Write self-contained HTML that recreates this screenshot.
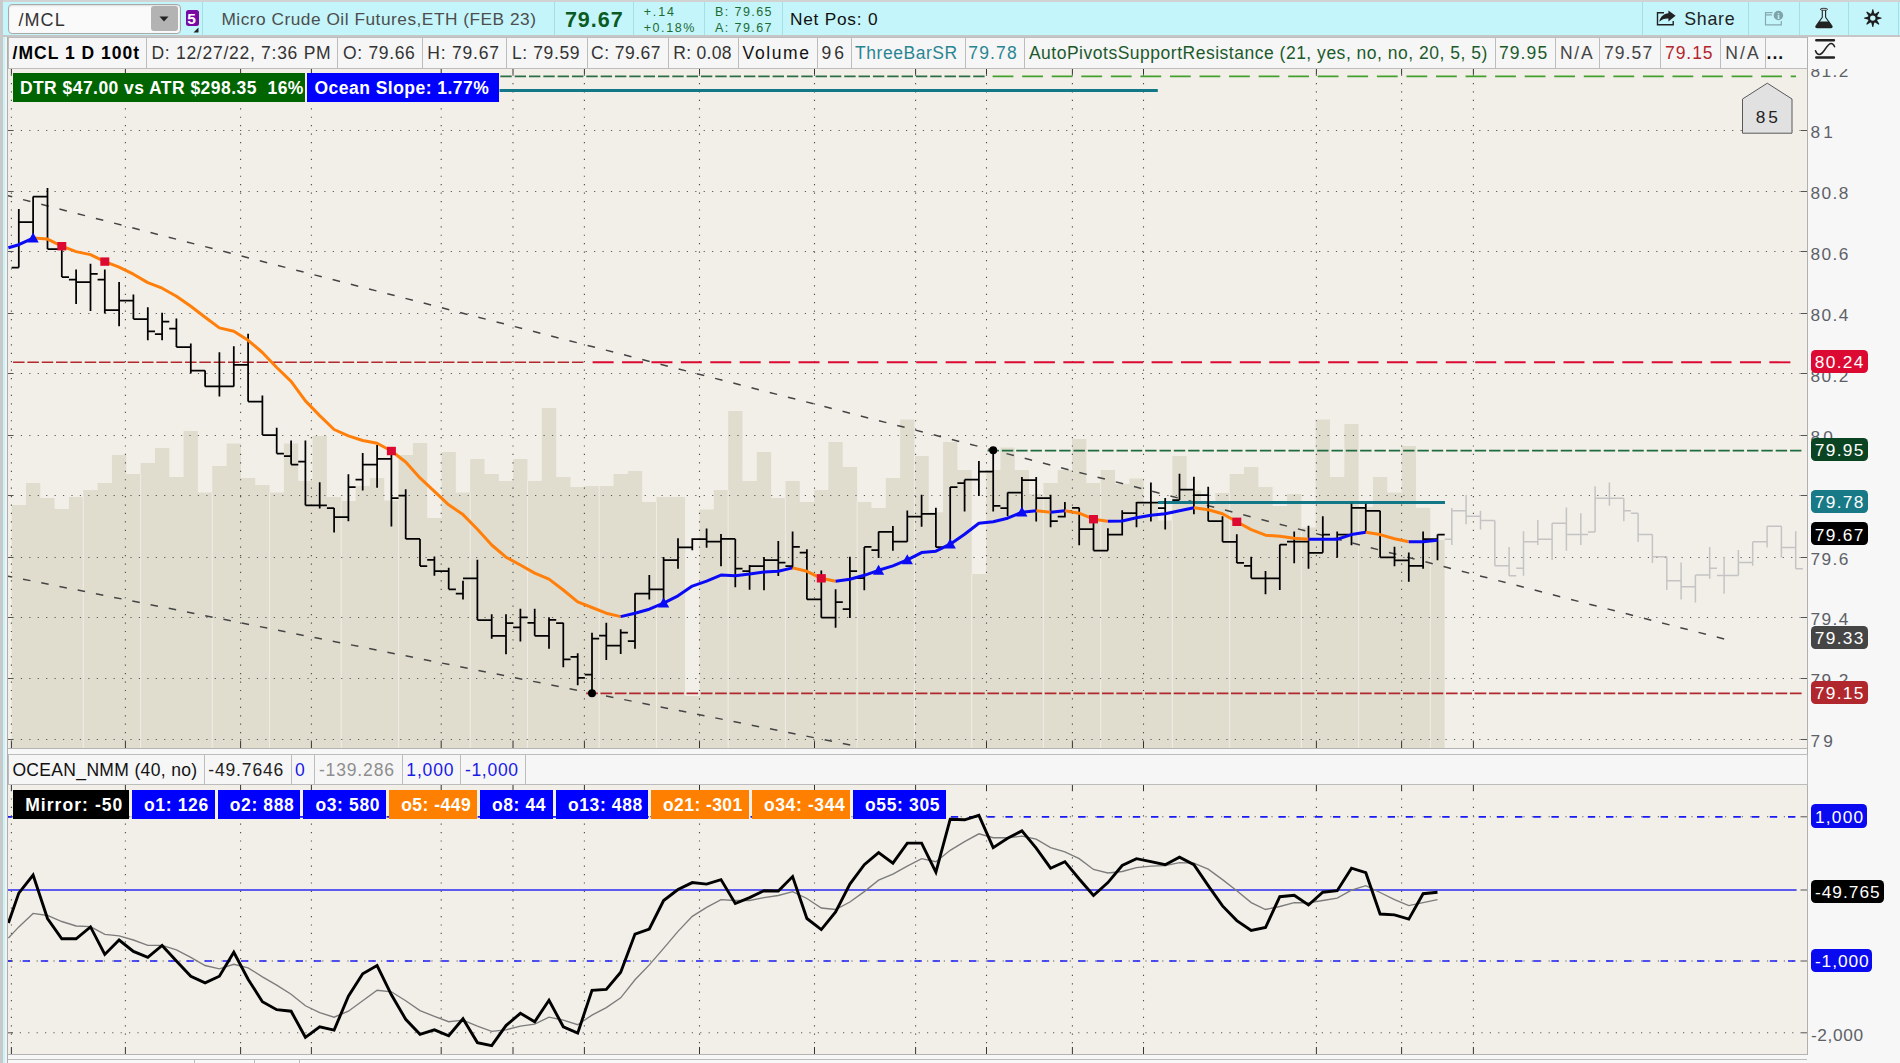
<!DOCTYPE html>
<html><head><meta charset="utf-8"><title>/MCL chart</title>
<style>
html,body{margin:0;padding:0;}
body{width:1900px;height:1063px;overflow:hidden;position:relative;background:#f7f7f7;font-family:"Liberation Sans",sans-serif;}
.b{position:absolute;display:block;}
.t{position:absolute;white-space:pre;line-height:1;}
</style></head><body>
<div class="b" style="left:0.0px;top:0.0px;width:1900.0px;height:1063.0px;background:#f7f7f7;"></div>
<div class="b" style="left:0.0px;top:0.0px;width:1900.0px;height:2.0px;background:#d2d2d2;"></div>
<div class="b" style="left:0.0px;top:0.0px;width:2.5px;height:1063.0px;background:#c9c9c9;"></div>
<div class="b" style="left:2.5px;top:1.5px;width:4.5px;height:1061.5px;background:#c4f5fa;"></div>
<div class="b" style="left:4.5px;top:36.5px;width:2.5px;height:1026.5px;background:#f2f2f2;"></div>
<div class="b" style="left:7.0px;top:36.0px;width:1.2px;height:1027.0px;background:#adadad;"></div>
<div class="b" style="left:2.5px;top:1.5px;width:1897.5px;height:33.5px;background:#c4f5fa;"></div>
<div class="b" style="left:2.5px;top:35.0px;width:1897.5px;height:2.0px;background:#c6c6c6;"></div>
<div class="b" style="left:7.5px;top:3.5px;width:173.0px;height:30.0px;background:#fafafa;border:1px solid #a9a9a9;border-radius:4px;box-sizing:border-box;box-shadow:inset 0 1px 2px rgba(0,0,0,.12);"></div>
<div class="b" style="left:150.5px;top:6.0px;width:27.5px;height:25.0px;background:#b3b3b3;border-radius:3px;"></div>
<svg class="b" style="left:158px;top:15px" width="12" height="8"><path d="M1.5 1.5 L10.5 1.5 L6 6.5 Z" fill="#222"/></svg>
<span class="t" style="left:18.4px;top:10.9px;font-size:18px;letter-spacing:1.10px;color:#333;">/MCL</span>
<div class="b" style="left:186.0px;top:9.5px;width:12.5px;height:16.5px;background:#7a08a3;border-radius:2.5px;"></div>
<span class="t" style="left:187.2px;top:11.4px;font-size:15.5px;letter-spacing:1.78px;color:#fff;font-weight:bold;">5</span>
<svg class="b" style="left:193px;top:27px" width="6" height="6"><path d="M5.5 0.5 L5.5 5.5 L0.5 5.5 Z" fill="#222"/></svg>
<div class="b" style="left:201.5px;top:2.0px;width:1.0px;height:33.0px;background:#a5dfe6;"></div>
<div class="b" style="left:554.0px;top:2.0px;width:1.0px;height:33.0px;background:#a5dfe6;"></div>
<div class="b" style="left:633.2px;top:2.0px;width:1.0px;height:33.0px;background:#a5dfe6;"></div>
<div class="b" style="left:704.2px;top:2.0px;width:1.0px;height:33.0px;background:#a5dfe6;"></div>
<div class="b" style="left:782.0px;top:2.0px;width:1.0px;height:33.0px;background:#a5dfe6;"></div>
<div class="b" style="left:1641.5px;top:2.0px;width:1.0px;height:33.0px;background:#a5dfe6;"></div>
<div class="b" style="left:1748.0px;top:2.0px;width:1.0px;height:33.0px;background:#a5dfe6;"></div>
<div class="b" style="left:1798.9px;top:2.0px;width:1.0px;height:33.0px;background:#a5dfe6;"></div>
<div class="b" style="left:1847.7px;top:2.0px;width:1.0px;height:33.0px;background:#a5dfe6;"></div>
<div class="b" style="left:1897.9px;top:2.0px;width:1.0px;height:33.0px;background:#a5dfe6;"></div>
<span class="t" style="left:221.4px;top:11.0px;font-size:17.3px;letter-spacing:0.51px;color:#4d4d4d;">Micro Crude Oil Futures,ETH (FEB 23)</span>
<span class="t" style="left:564.9px;top:9.9px;font-size:21.5px;letter-spacing:1.00px;color:#0b5a24;font-weight:bold;">79.67</span>
<span class="t" style="left:643.7px;top:6.3px;font-size:12.5px;letter-spacing:1.87px;color:#1d6b34;">+.14</span>
<span class="t" style="left:643.7px;top:22.0px;font-size:12.5px;letter-spacing:1.59px;color:#1d6b34;">+0.18%</span>
<span class="t" style="left:715.0px;top:6.3px;font-size:12.5px;letter-spacing:1.42px;color:#1d6b34;">B: 79.65</span>
<span class="t" style="left:715.0px;top:22.0px;font-size:12.5px;letter-spacing:1.42px;color:#1d6b34;">A: 79.67</span>
<span class="t" style="left:789.9px;top:10.7px;font-size:17.3px;letter-spacing:0.77px;color:#111;">Net Pos: 0</span>
<span class="t" style="left:1684.2px;top:11.1px;font-size:17.8px;letter-spacing:0.73px;color:#222;">Share</span>
<div class="b" style="left:8.0px;top:37.0px;width:1799.5px;height:31.5px;background:#f6f6f6;border:1px solid #bcbcbc;box-sizing:border-box;"></div>
<div class="b" style="left:146.0px;top:38.0px;width:1.0px;height:30.0px;background:#bcbcbc;"></div>
<div class="b" style="left:337.3px;top:38.0px;width:1.0px;height:30.0px;background:#bcbcbc;"></div>
<div class="b" style="left:422.2px;top:38.0px;width:1.0px;height:30.0px;background:#bcbcbc;"></div>
<div class="b" style="left:506.4px;top:38.0px;width:1.0px;height:30.0px;background:#bcbcbc;"></div>
<div class="b" style="left:586.9px;top:38.0px;width:1.0px;height:30.0px;background:#bcbcbc;"></div>
<div class="b" style="left:668.1px;top:38.0px;width:1.0px;height:30.0px;background:#bcbcbc;"></div>
<div class="b" style="left:738.2px;top:38.0px;width:1.0px;height:30.0px;background:#bcbcbc;"></div>
<div class="b" style="left:817.3px;top:38.0px;width:1.0px;height:30.0px;background:#bcbcbc;"></div>
<div class="b" style="left:851.0px;top:38.0px;width:1.0px;height:30.0px;background:#bcbcbc;"></div>
<div class="b" style="left:964.5px;top:38.0px;width:1.0px;height:30.0px;background:#bcbcbc;"></div>
<div class="b" style="left:1024.1px;top:38.0px;width:1.0px;height:30.0px;background:#bcbcbc;"></div>
<div class="b" style="left:1494.5px;top:38.0px;width:1.0px;height:30.0px;background:#bcbcbc;"></div>
<div class="b" style="left:1554.5px;top:38.0px;width:1.0px;height:30.0px;background:#bcbcbc;"></div>
<div class="b" style="left:1598.5px;top:38.0px;width:1.0px;height:30.0px;background:#bcbcbc;"></div>
<div class="b" style="left:1660.0px;top:38.0px;width:1.0px;height:30.0px;background:#bcbcbc;"></div>
<div class="b" style="left:1720.0px;top:38.0px;width:1.0px;height:30.0px;background:#bcbcbc;"></div>
<div class="b" style="left:1764.5px;top:38.0px;width:1.0px;height:30.0px;background:#bcbcbc;"></div>
<span class="t" style="left:12.5px;top:45.0px;font-size:17.5px;letter-spacing:1.02px;color:#000;font-weight:bold;">/MCL 1 D 100t</span>
<span class="t" style="left:151.4px;top:45.0px;font-size:17.5px;letter-spacing:0.73px;color:#333;">D: 12/27/22, 7:36 PM</span>
<span class="t" style="left:343.1px;top:45.0px;font-size:17.5px;letter-spacing:0.65px;color:#333;">O: 79.66</span>
<span class="t" style="left:427.3px;top:45.0px;font-size:17.5px;letter-spacing:0.79px;color:#333;">H: 79.67</span>
<span class="t" style="left:511.9px;top:45.0px;font-size:17.5px;letter-spacing:0.62px;color:#333;">L: 79.59</span>
<span class="t" style="left:591.1px;top:45.0px;font-size:17.5px;letter-spacing:0.45px;color:#333;">C: 79.67</span>
<span class="t" style="left:673.2px;top:45.0px;font-size:17.5px;letter-spacing:0.31px;color:#333;">R: 0.08</span>
<span class="t" style="left:742.6px;top:45.0px;font-size:17.5px;letter-spacing:1.59px;color:#111;">Volume</span>
<span class="t" style="left:821.4px;top:45.0px;font-size:17.5px;letter-spacing:3.03px;color:#333;">96</span>
<span class="t" style="left:855.1px;top:45.0px;font-size:17.5px;letter-spacing:0.53px;color:#2a8593;">ThreeBarSR</span>
<span class="t" style="left:968.3px;top:45.0px;font-size:17.5px;letter-spacing:1.15px;color:#2a8593;">79.78</span>
<span class="t" style="left:1028.9px;top:45.0px;font-size:17.5px;letter-spacing:0.51px;color:#1c5a2c;">AutoPivotsSupportResistance (21, yes, no, no, 20, 5, 5)</span>
<span class="t" style="left:1498.9px;top:45.0px;font-size:17.5px;letter-spacing:1.12px;color:#1c5a2c;">79.95</span>
<span class="t" style="left:1559.9px;top:45.0px;font-size:17.5px;letter-spacing:1.81px;color:#444;">N/A</span>
<span class="t" style="left:1603.9px;top:45.0px;font-size:17.5px;letter-spacing:1.12px;color:#444;">79.57</span>
<span class="t" style="left:1665.0px;top:45.0px;font-size:17.5px;letter-spacing:0.95px;color:#b3262d;">79.15</span>
<span class="t" style="left:1725.2px;top:45.0px;font-size:17.5px;letter-spacing:2.11px;color:#444;">N/A</span>
<span class="t" style="left:1766.6px;top:45.0px;font-size:17.5px;letter-spacing:0.96px;color:#111;font-weight:bold;">...</span>
<svg class="b" style="left:0;top:0" width="1900" height="70" viewBox="0 0 1900 70"><path d="M1664 12.7H1657.5V24.8H1673.2V21" fill="none" stroke="#222" stroke-width="1.4"/><path d="M1659.2 21.8C1660.3 16.6 1664 13.5 1668.4 13.3V10.4L1675.6 15.8L1668.4 21.4V18.4C1664.5 18.3 1661.5 19.4 1659.2 21.8Z" fill="#222"/><path d="M1772.6 12.7H1765.5V24.8H1781.3V21" fill="none" stroke="#86aab0" stroke-width="1.2"/><path d="M1766 14.9H1772" stroke="#86aab0" stroke-width="1.3"/><circle cx="1778.4" cy="15.5" r="4.75" fill="#7fa3a9"/><text x="1778.5" y="18.9" font-size="8.6" font-weight="bold" text-anchor="middle" fill="#c4f5fa" font-family="Liberation Serif, serif">i</text><ellipse cx="1823.95" cy="9.3" rx="3.7" ry="1" fill="#dff" stroke="#222" stroke-width="0.9"/><path d="M1822.3 10.2V17.3L1816 25.9Q1815.3 27.6 1817.2 27.6H1830.8Q1832.6 27.6 1831.9 25.9L1825.6 17.3V10.2" fill="none" stroke="#222" stroke-width="1.1"/><path d="M1819 21.6H1829L1832 25.9Q1832.7 27.7 1830.8 27.7H1817.2Q1815.2 27.7 1816 25.9Z" fill="#222"/><path d="M1876.26 16.30L1881.59 17.66L1881.59 18.54L1876.26 19.90ZM1876.52 19.27L1879.33 24.00L1878.70 24.63L1873.97 21.82ZM1874.60 21.56L1873.24 26.89L1872.36 26.89L1871.00 21.56ZM1871.63 21.82L1866.90 24.63L1866.27 24.00L1869.08 19.27ZM1869.34 19.90L1864.01 18.54L1864.01 17.66L1869.34 16.30ZM1869.08 16.93L1866.27 12.20L1866.90 11.57L1871.63 14.38ZM1871.00 14.64L1872.36 9.31L1873.24 9.31L1874.60 14.64ZM1873.97 14.38L1878.70 11.57L1879.33 12.20L1876.52 16.93Z" fill="#1e1e1e"/><circle cx="1872.8" cy="18.1" r="3.75" fill="none" stroke="#1e1e1e" stroke-width="2.1"/><path d="M1816.3 40.25H1833.9M1816.3 57.6H1833.9" stroke="#222" stroke-width="2.5" stroke-linecap="round"/><path d="M1815.5 50.7C1816.5 53.5 1817.8 54.5 1819.3 54.5C1824 54.5 1826.5 43.5 1831.2 43.5C1832.8 43.5 1833.8 44.8 1834.6 46.7" fill="none" stroke="#222" stroke-width="1.5" stroke-linecap="round"/></svg>
<svg class="b" style="left:8px;top:69px" width="1799" height="679" viewBox="8 69 1799 679" font-family="Liberation Sans, sans-serif"><rect x="8" y="69" width="1799" height="679" fill="#f2efe8"/><path d="M11.64 748L11.64 505.0L25.97 505.0L25.96 483.0L40.30 483.0L40.30 498.0L54.62 498.0L54.62 509.0L68.95 509.0L68.95 497.0L83.28 497.0L83.28 490.0L97.61 490.0L97.61 483.0L111.94 483.0L111.94 455.0L126.27 455.0L126.27 474.0L140.60 474.0L140.61 463.0L154.94 463.0L154.94 448.0L169.27 448.0L169.27 477.0L183.60 477.0L183.59 431.0L197.93 431.0L197.93 492.5L212.26 492.5L212.26 466.0L226.59 466.0L226.59 443.5L240.92 443.5L240.92 478.0L255.25 478.0L255.25 485.0L269.57 485.0L269.57 492.5L283.90 492.5L283.91 443.5L298.24 443.5L298.24 481.0L312.56 481.0L312.56 436.0L326.89 436.0L326.90 497.0L341.23 497.0L341.23 501.0L355.56 501.0L355.56 486.0L369.88 486.0L369.88 478.0L384.21 478.0L384.22 500.5L398.55 500.5L398.55 455.0L412.88 455.0L412.88 443.0L427.20 443.0L427.21 518.0L441.54 518.0L441.54 452.0L455.87 452.0L455.87 492.5L470.19 492.5L470.19 459.0L484.52 459.0L484.53 474.0L498.86 474.0L498.86 481.0L513.19 481.0L513.18 459.0L527.51 459.0L527.51 481.0L541.85 481.0L541.84 408.0L556.17 408.0L556.17 477.0L570.50 477.0L570.50 487.0L584.84 487.0L584.83 486.0L599.16 486.0L599.16 486.0L613.50 486.0L613.50 474.0L627.83 474.0L627.82 471.0L642.15 471.0L642.15 502.0L656.49 502.0L656.49 497.0L670.82 497.0L670.81 497.0L685.14 497.0L685.14 696.0L699.48 696.0L699.47 509.5L713.80 509.5L713.80 490.0L728.13 490.0L728.13 411.0L742.47 411.0L742.46 481.0L756.79 481.0L756.79 452.0L771.12 452.0L771.12 498.0L785.46 498.0L785.45 481.0L799.78 481.0L799.78 502.0L814.12 502.0L814.12 490.0L828.45 490.0L828.44 442.0L842.77 442.0L842.77 467.0L857.11 467.0L857.10 502.0L871.43 502.0L871.43 508.0L885.76 508.0L885.76 478.0L900.10 478.0L900.09 419.5L914.42 419.5L914.42 456.0L928.75 456.0L928.75 512.3L943.09 512.3L943.08 442.0L957.41 442.0L957.41 470.0L971.75 470.0L971.75 574.0L986.08 574.0L986.07 470.0L1000.40 470.0L1000.40 447.5L1014.74 447.5L1014.74 470.0L1029.07 470.0L1029.07 494.0L1043.39 494.0L1043.39 483.0L1057.72 483.0L1057.72 470.0L1072.05 470.0L1072.06 439.0L1086.38 439.0L1086.38 483.0L1100.71 483.0L1100.71 470.0L1115.04 470.0L1115.05 484.0L1129.38 484.0L1129.38 478.5L1143.70 478.5L1143.70 502.0L1158.03 502.0L1158.03 520.5L1172.36 520.5L1172.37 456.0L1186.69 456.0L1186.69 490.5L1201.02 490.5L1201.02 503.0L1215.35 503.0L1215.36 493.0L1229.68 493.0L1229.68 474.0L1244.01 474.0L1244.01 467.0L1258.34 467.0L1258.35 487.0L1272.67 487.0L1272.67 506.0L1287.00 506.0L1287.00 494.0L1301.33 494.0L1301.34 527.5L1315.66 527.5L1315.66 419.5L1329.99 419.5L1329.99 477.0L1344.32 477.0L1344.33 424.0L1358.65 424.0L1358.65 507.0L1372.98 507.0L1372.98 477.0L1387.31 477.0L1387.32 492.6L1401.64 492.6L1401.64 446.0L1415.97 446.0L1415.97 507.7L1430.30 507.7L1430.31 540.0L1444.63 540.0L1444.63 748Z" fill="#e0ddcf"/><rect x="82.78" y="497.0" width="1" height="251.0" fill="#efece4"/><rect x="140.11" y="474.0" width="1" height="274.0" fill="#efece4"/><rect x="211.76" y="492.5" width="1" height="255.5" fill="#efece4"/><rect x="269.07" y="492.5" width="1" height="255.5" fill="#efece4"/><rect x="340.73" y="501.0" width="1" height="247.0" fill="#efece4"/><rect x="398.05" y="500.5" width="1" height="247.5" fill="#efece4"/><rect x="469.69" y="492.5" width="1" height="255.5" fill="#efece4"/><rect x="527.01" y="481.0" width="1" height="267.0" fill="#efece4"/><rect x="598.66" y="486.0" width="1" height="262.0" fill="#efece4"/><rect x="655.99" y="502.0" width="1" height="246.0" fill="#efece4"/><rect x="727.63" y="490.0" width="1" height="258.0" fill="#efece4"/><rect x="784.95" y="498.0" width="1" height="250.0" fill="#efece4"/><rect x="856.60" y="502.0" width="1" height="246.0" fill="#efece4"/><rect x="913.92" y="456.0" width="1" height="292.0" fill="#efece4"/><rect x="971.25" y="574.0" width="1" height="174.0" fill="#efece4"/><rect x="1042.89" y="494.0" width="1" height="254.0" fill="#efece4"/><rect x="1100.21" y="483.0" width="1" height="265.0" fill="#efece4"/><rect x="1171.87" y="520.5" width="1" height="227.5" fill="#efece4"/><rect x="1229.18" y="493.0" width="1" height="255.0" fill="#efece4"/><rect x="1300.84" y="527.5" width="1" height="220.5" fill="#efece4"/><rect x="1358.15" y="507.0" width="1" height="241.0" fill="#efece4"/><rect x="1429.81" y="540.0" width="1" height="208.0" fill="#efece4"/><path d="M12.4 130.5H1800" stroke="#5a5a5a" stroke-width="1.1" stroke-dasharray="1.2 7.23"/><path d="M12.4 191.5H1800" stroke="#5a5a5a" stroke-width="1.1" stroke-dasharray="1.2 7.23"/><path d="M12.4 251.5H1800" stroke="#5a5a5a" stroke-width="1.1" stroke-dasharray="1.2 7.23"/><path d="M12.4 313.5H1800" stroke="#5a5a5a" stroke-width="1.1" stroke-dasharray="1.2 7.23"/><path d="M12.4 373.5H1800" stroke="#5a5a5a" stroke-width="1.1" stroke-dasharray="1.2 7.23"/><path d="M12.4 435.5H1800" stroke="#5a5a5a" stroke-width="1.1" stroke-dasharray="1.2 7.23"/><path d="M12.4 495.5H1800" stroke="#5a5a5a" stroke-width="1.1" stroke-dasharray="1.2 7.23"/><path d="M12.4 557.5H1800" stroke="#5a5a5a" stroke-width="1.1" stroke-dasharray="1.2 7.23"/><path d="M12.4 617.5H1800" stroke="#5a5a5a" stroke-width="1.1" stroke-dasharray="1.2 7.23"/><path d="M12.4 678.5H1800" stroke="#5a5a5a" stroke-width="1.1" stroke-dasharray="1.2 7.23"/><path d="M12.4 739.5H1800" stroke="#5a5a5a" stroke-width="1.1" stroke-dasharray="1.2 7.23"/><path d="M11.4 74.5V742" stroke="#4a4a4a" stroke-width="1.1" stroke-dasharray="1.2 7.23"/><path d="M11.4 69V74.5M11.4 741.5V748" stroke="#333" stroke-width="1"/><path d="M125.4 74.5V742" stroke="#4a4a4a" stroke-width="1.1" stroke-dasharray="1.2 7.23"/><path d="M125.4 69V74.5M125.4 741.5V748" stroke="#333" stroke-width="1"/><path d="M240.6 74.5V742" stroke="#4a4a4a" stroke-width="1.1" stroke-dasharray="1.2 7.23"/><path d="M240.6 69V74.5M240.6 741.5V748" stroke="#333" stroke-width="1"/><path d="M311.4 74.5V742" stroke="#4a4a4a" stroke-width="1.1" stroke-dasharray="1.2 7.23"/><path d="M311.4 69V74.5M311.4 741.5V748" stroke="#333" stroke-width="1"/><path d="M441.2 74.5V742" stroke="#4a4a4a" stroke-width="1.1" stroke-dasharray="1.2 7.23"/><path d="M441.2 69V74.5M441.2 741.5V748" stroke="#333" stroke-width="1"/><path d="M513 74.5V742" stroke="#4a4a4a" stroke-width="1.1" stroke-dasharray="1.2 7.23"/><path d="M513 69V74.5M513 741.5V748" stroke="#333" stroke-width="1"/><path d="M584.4 74.5V742" stroke="#4a4a4a" stroke-width="1.1" stroke-dasharray="1.2 7.23"/><path d="M584.4 69V74.5M584.4 741.5V748" stroke="#333" stroke-width="1"/><path d="M699.5 74.5V742" stroke="#4a4a4a" stroke-width="1.1" stroke-dasharray="1.2 7.23"/><path d="M699.5 69V74.5M699.5 741.5V748" stroke="#333" stroke-width="1"/><path d="M814.5 74.5V742" stroke="#4a4a4a" stroke-width="1.1" stroke-dasharray="1.2 7.23"/><path d="M814.5 69V74.5M814.5 741.5V748" stroke="#333" stroke-width="1"/><path d="M915.6 74.5V742" stroke="#4a4a4a" stroke-width="1.1" stroke-dasharray="1.2 7.23"/><path d="M915.6 69V74.5M915.6 741.5V748" stroke="#333" stroke-width="1"/><path d="M986.5 74.5V742" stroke="#4a4a4a" stroke-width="1.1" stroke-dasharray="1.2 7.23"/><path d="M986.5 69V74.5M986.5 741.5V748" stroke="#333" stroke-width="1"/><path d="M1072.4 74.5V742" stroke="#4a4a4a" stroke-width="1.1" stroke-dasharray="1.2 7.23"/><path d="M1072.4 69V74.5M1072.4 741.5V748" stroke="#333" stroke-width="1"/><path d="M1143.5 74.5V742" stroke="#4a4a4a" stroke-width="1.1" stroke-dasharray="1.2 7.23"/><path d="M1143.5 69V74.5M1143.5 741.5V748" stroke="#333" stroke-width="1"/><path d="M1316.4 74.5V742" stroke="#4a4a4a" stroke-width="1.1" stroke-dasharray="1.2 7.23"/><path d="M1316.4 69V74.5M1316.4 741.5V748" stroke="#333" stroke-width="1"/><path d="M1401.6 74.5V742" stroke="#4a4a4a" stroke-width="1.1" stroke-dasharray="1.2 7.23"/><path d="M1401.6 69V74.5M1401.6 741.5V748" stroke="#333" stroke-width="1"/><path d="M1473.4 74.5V742" stroke="#4a4a4a" stroke-width="1.1" stroke-dasharray="1.2 7.23"/><path d="M1473.4 69V74.5M1473.4 741.5V748" stroke="#333" stroke-width="1"/><path d="M8 130.5H13M1800.5 130.5H1807" stroke="#555" stroke-width="1"/><path d="M8 191.5H13M1800.5 191.5H1807" stroke="#555" stroke-width="1"/><path d="M8 251.5H13M1800.5 251.5H1807" stroke="#555" stroke-width="1"/><path d="M8 313.5H13M1800.5 313.5H1807" stroke="#555" stroke-width="1"/><path d="M8 373.5H13M1800.5 373.5H1807" stroke="#555" stroke-width="1"/><path d="M8 435.5H13M1800.5 435.5H1807" stroke="#555" stroke-width="1"/><path d="M8 495.5H13M1800.5 495.5H1807" stroke="#555" stroke-width="1"/><path d="M8 557.5H13M1800.5 557.5H1807" stroke="#555" stroke-width="1"/><path d="M8 617.5H13M1800.5 617.5H1807" stroke="#555" stroke-width="1"/><path d="M8 678.5H13M1800.5 678.5H1807" stroke="#555" stroke-width="1"/><path d="M8 739.5H13M1800.5 739.5H1807" stroke="#555" stroke-width="1"/><path d="M4.8 194.90L1727 639.74" stroke="#444" stroke-width="1.5" stroke-dasharray="7.64 11.17" fill="none"/><path d="M4.8 575.50L858 746.48" stroke="#444" stroke-width="1.5" stroke-dasharray="7.55 11.03" fill="none"/><path d="M500.32 76.3H984.61" stroke="#2a6e45" stroke-width="1.7" stroke-dasharray="11.4 2.93"/><path d="M992.6 76.3H1796" stroke="#43a02c" stroke-width="1.7" stroke-dasharray="20.8 8.76"/><path d="M499.5 90.4H1157.8" stroke="#127888" stroke-width="3"/><path d="M13.05 362.3H583.42" stroke="#b3272e" stroke-width="1.6" stroke-dasharray="11.5 2.83"/><path d="M592.6 362.3H1792" stroke="#dc0a32" stroke-width="1.9" stroke-dasharray="21 8.42"/><path d="M987.54 450.6H1802.00" stroke="#1d6b3e" stroke-width="1.8" stroke-dasharray="11.4 2.93"/><path d="M586.15 693.4H1802.00" stroke="#b0282e" stroke-width="1.7" stroke-dasharray="11.7 2.63"/><path d="M1158 502.5H1445" stroke="#127888" stroke-width="3"/><path d="M1451.8 508.0V545.0M1444.6 539.2H1451.8M1451.8 510.8H1459.0M1466.1 495.0V524.2M1458.9 510.8H1466.1M1466.1 516.2H1473.3M1480.5 510.8V529.5M1473.3 516.2H1480.5M1480.5 520.5H1487.7M1494.8 520.5V565.8M1487.6 520.5H1494.8M1494.8 565.8H1502.0M1509.1 547.0V575.8M1501.9 565.8H1509.1M1509.1 575.8H1516.3M1523.5 531.2V575.8M1516.2 568.2H1523.5M1523.5 541.8H1530.7M1537.8 520.0V545.0M1530.6 541.8H1537.8M1537.8 539.2H1545.0M1552.1 523.2V560.0M1544.9 539.2H1552.1M1552.1 523.2H1559.3M1566.4 507.5V550.8M1559.2 523.2H1566.4M1566.4 534.5H1573.6M1580.8 513.2V545.0M1573.6 534.5H1580.8M1580.8 534.5H1588.0M1595.1 486.2V532.0M1587.9 532.0H1595.1M1595.1 498.2H1602.3M1609.4 482.5V505.8M1602.2 498.2H1609.4M1609.4 498.2H1616.6M1623.8 498.2V521.2M1616.6 498.2H1623.8M1623.8 510.8H1631.0M1638.1 513.2V542.0M1630.9 513.2H1638.1M1638.1 534.5H1645.3M1652.4 534.5V563.0M1645.2 534.5H1652.4M1652.4 556.8H1659.6M1666.8 556.8V590.0M1659.5 556.8H1666.8M1666.8 580.8H1674.0M1681.1 562.5V599.5M1673.9 580.8H1681.1M1681.1 586.8H1688.3M1695.4 575.0V602.5M1688.2 586.8H1695.4M1695.4 575.0H1702.6M1709.7 547.0V578.8M1702.5 575.0H1709.7M1709.7 568.2H1716.9M1724.1 556.8V593.8M1716.9 575.5H1724.1M1724.1 575.5H1731.3M1738.4 550.0V575.5M1731.2 575.5H1738.4M1738.4 562.5H1745.6M1752.7 541.8V565.8M1745.5 562.5H1752.7M1752.7 541.8H1759.9M1767.1 526.2V547.5M1759.9 541.8H1767.1M1767.1 526.2H1774.3M1781.4 526.2V557.5M1774.2 526.2H1781.4M1781.4 547.5H1788.6M1795.7 531.2V568.8M1788.5 547.5H1795.7M1795.7 568.8H1802.9" stroke="#c4c4c4" stroke-width="1.5" fill="none"/><path d="M18.8 209.0V267.5M11.6 267.5H18.8M18.8 222.1H26.0M33.1 196.6V241.0M25.9 222.1H33.1M33.1 196.6H40.3M47.5 188.0V249.0M40.3 196.6H47.5M47.5 249.0H54.7M61.8 244.0V277.1M54.6 249.0H61.8M61.8 277.1H69.0M76.1 269.5V303.9M68.9 279.6H76.1M76.1 282.0H83.3M90.5 263.7V310.9M83.2 282.0H90.5M90.5 273.8H97.7M104.8 269.5V313.4M97.6 279.6H104.8M104.8 310.2H112.0M119.1 282.0V326.3M111.9 310.2H119.1M119.1 300.7H126.3M133.4 294.4V319.0M126.2 300.7H133.4M133.4 319.0H140.6M147.8 307.2V340.3M140.6 319.0H147.8M147.8 331.4H155.0M162.1 312.7V340.3M154.9 334.2H162.1M162.1 321.6H169.3M176.4 318.5V347.0M169.2 328.5H176.4M176.4 347.0H183.6M190.8 343.6V373.6M183.6 347.0H190.8M190.8 370.6H198.0M205.1 370.6V386.4M197.9 370.6H205.1M205.1 386.4H212.3M219.4 352.2V396.4M212.2 386.4H219.4M219.4 386.4H226.6M233.8 346.3V386.4M226.6 386.4H233.8M233.8 364.8H240.9M248.1 333.7V401.5M240.9 364.8H248.1M248.1 401.5H255.3M262.4 395.4V435.1M255.2 401.5H262.4M262.4 435.1H269.6M276.7 427.8V453.5M269.5 435.1H276.7M276.7 453.5H283.9M291.1 440.5V464.5M283.9 456.2H291.1M291.1 464.5H298.3M305.4 440.5V505.3M298.2 461.5H305.4M305.4 505.3H312.6M319.7 482.3V508.5M312.5 505.3H319.7M319.7 505.3H326.9M334.1 508.0V532.4M326.9 508.0H334.1M334.1 517.0H341.3M348.4 474.3V521.2M341.2 517.0H348.4M348.4 487.0H355.6M362.7 453.0V490.6M355.5 479.6H362.7M362.7 464.5H369.9M377.1 444.9V487.7M369.9 464.5H377.1M377.1 458.9H384.2M391.4 448.0V526.4M384.2 458.8H391.4M391.4 498.1H398.6M405.7 489.2V538.9M398.5 495.5H405.7M405.7 538.9H412.9M420.0 538.9V566.0M412.8 538.9H420.0M420.0 566.0H427.2M434.4 556.6V575.8M427.2 559.8H434.4M434.4 571.1H441.6M448.7 567.8V589.3M441.5 571.1H448.7M448.7 589.3H455.9M463.0 580.8V599.5M455.8 593.7H463.0M463.0 578.3H470.2M477.4 559.8V620.1M470.2 578.3H477.4M477.4 620.1H484.6M491.7 614.2V638.8M484.5 620.1H491.7M491.7 635.8H498.9M506.0 614.2V654.3M498.8 635.8H506.0M506.0 623.1H513.2M520.4 608.8V641.5M513.1 627.3H520.4M520.4 617.4H527.6M534.7 608.8V635.8M527.5 622.9H534.7M534.7 635.8H541.9M549.0 617.3V648.8M541.8 635.8H549.0M549.0 619.8H556.2M563.3 622.7V667.3M556.1 623.1H563.3M563.3 659.3H570.5M577.7 653.3V685.3M570.5 656.9H577.7M577.7 677.9H584.9M592.0 632.8V693.3M584.8 674.7H592.0M592.0 638.6H599.2M606.3 622.7V659.9M599.1 635.7H606.3M606.3 645.7H613.5M620.7 629.3V654.1M613.5 645.7H620.7M620.7 632.6H627.9M635.0 593.2V648.8M627.8 641.0H635.0M635.0 593.5H642.2M649.3 575.0V599.5M642.1 593.5H649.3M649.3 589.4H656.5M663.6 557.0V600.0M656.4 589.4H663.6M663.6 560.0H670.9M678.0 538.3V568.7M670.8 560.0H678.0M678.0 547.3H685.2M692.3 538.3V550.3M685.1 547.3H692.3M692.3 539.1H699.5M706.6 528.4V547.8M699.4 539.1H706.6M706.6 541.7H713.8M721.0 534.0V566.2M713.8 541.7H721.0M721.0 538.9H728.2M735.3 538.9V587.3M728.1 538.9H735.3M735.3 568.7H742.5M749.6 565.0V589.8M742.4 571.0H749.6M749.6 566.0H756.8M764.0 557.0V590.2M756.8 566.0H764.0M764.0 560.0H771.2M778.3 541.0V576.0M771.1 560.0H778.3M778.3 562.6H785.5M792.6 531.4V568.0M785.4 566.0H792.6M792.6 546.9H799.8M806.9 549.3V599.4M799.7 552.6H806.9M806.9 599.4H814.1M821.3 570.4V617.7M814.1 599.4H821.3M821.3 617.7H828.5M835.6 589.3V627.8M828.4 617.7H835.6M835.6 602.0H842.8M849.9 556.7V618.0M842.7 609.1H849.9M849.9 571.0H857.1M864.3 546.9V590.2M857.1 578.0H864.3M864.3 546.9H871.5M878.6 531.4V558.0M871.4 550.2H878.6M878.6 531.8H885.8M892.9 526.0V550.8M885.7 531.8H892.9M892.9 541.7H900.1M907.3 510.4V541.7M900.1 541.7H907.3M907.3 516.7H914.5M921.6 494.8V526.8M914.4 516.7H921.6M921.6 513.8H928.8M935.9 507.8V547.2M928.7 513.8H935.9M935.9 547.2H943.1M950.2 487.1V546.0M943.0 547.2H950.2M950.2 487.1H957.5M964.6 479.7V511.6M957.4 483.1H964.6M964.6 479.7H971.8M978.9 461.1V496.1M971.7 479.7H978.9M978.9 471.7H986.1M993.2 450.3V511.6M986.0 471.7H993.2M993.2 505.8H1000.4M1007.6 492.5V516.2M1000.4 508.2H1007.6M1007.6 492.5H1014.8M1021.9 477.1V511.0M1014.7 492.5H1021.9M1021.9 480.1H1029.1M1036.2 477.1V521.6M1029.0 480.1H1036.2M1036.2 498.1H1043.4M1050.6 494.7V527.2M1043.4 498.1H1050.6M1050.6 521.2H1057.8M1064.9 502.1V517.6M1057.7 516.6H1064.9M1064.9 511.2H1072.1M1079.2 507.8V545.2M1072.0 507.8H1079.2M1079.2 529.2H1086.4M1093.5 517.0V550.6M1086.3 529.2H1093.5M1093.5 550.6H1100.8M1107.9 528.2V550.6M1100.7 550.6H1107.9M1107.9 534.6H1115.1M1122.2 510.2V535.4M1115.0 534.6H1122.2M1122.2 513.2H1129.4M1136.5 502.1V527.2M1129.3 513.2H1136.5M1136.5 502.5H1143.7M1150.9 482.5V521.6M1143.7 502.5H1150.9M1150.9 502.5H1158.1M1165.2 498.1V529.6M1158.0 508.2H1165.2M1165.2 513.2H1172.4M1179.5 473.7V500.1M1172.3 500.0H1179.5M1179.5 489.7H1186.7M1193.9 476.7V514.2M1186.7 489.7H1193.9M1193.9 495.1H1201.1M1208.2 486.7V521.2M1201.0 495.1H1208.2M1208.2 521.2H1215.4M1222.5 516.2V541.8M1215.3 521.2H1222.5M1222.5 541.8H1229.7M1236.8 534.2V562.9M1229.6 541.8H1236.8M1236.8 562.9H1244.0M1251.2 556.7V578.3M1244.0 565.9H1251.2M1251.2 578.3H1258.4M1265.5 570.9V594.3M1258.3 578.3H1265.5M1265.5 578.3H1272.7M1279.8 544.6V589.9M1272.6 578.3H1279.8M1279.8 544.6H1287.0M1294.2 531.6V563.3M1287.0 541.6H1294.2M1294.2 541.6H1301.4M1308.5 525.8V568.7M1301.3 541.6H1308.5M1308.5 552.8H1315.7M1322.8 516.2V552.8M1315.6 552.8H1322.8M1322.8 534.6H1330.0M1337.2 531.6V557.7M1330.0 539.2H1337.2M1337.2 534.6H1344.4M1351.5 503.7V545.2M1344.3 534.6H1351.5M1351.5 507.8H1358.7M1365.8 503.7V532.2M1358.6 507.8H1365.8M1365.8 510.8H1373.0M1380.1 510.8V557.3M1372.9 510.8H1380.1M1380.1 557.3H1387.3M1394.5 546.8V566.3M1387.3 557.3H1394.5M1394.5 560.3H1401.7M1408.8 552.6V581.7M1401.6 560.3H1408.8M1408.8 565.9H1416.0M1423.1 531.6V568.7M1415.9 565.9H1423.1M1423.1 539.2H1430.3M1437.5 534.6V560.3M1430.3 539.2H1437.5M1437.5 534.6H1444.7" stroke="#000" stroke-width="1.75" fill="none"/><path d="M8.4 247.8L18.8 244.7L33.1 238.1" stroke="#0a0af5" stroke-width="3" fill="none" stroke-linejoin="round"/><path d="M33.1 238.1L47.5 239.1L61.8 246.2L76.1 251.6L90.5 254.6L104.8 261.6L119.1 267.2L133.4 274.2L147.8 282.6L162.1 288.2L176.4 296.3L190.8 306.3L205.1 317.3L219.4 327.9L233.8 331.3L248.1 340.3L262.4 352.5L276.7 367.5L291.1 381.3L305.4 400.9L319.7 415.6L334.1 429.5L348.4 435.9L362.7 440.5L377.1 443.2L391.4 451.0L405.7 462.0L420.0 477.9L434.4 491.4L448.7 504.8L463.0 514.6L477.4 529.3L491.7 545.0L506.0 557.2L520.4 565.0L534.7 573.1L549.0 579.1L563.3 590.0L577.7 601.8L592.0 607.5L606.3 613.2L620.7 616.6" stroke="#ff7f0a" stroke-width="3" fill="none" stroke-linejoin="round"/><path d="M620.7 616.6L635.0 613.2L649.3 609.2L663.6 603.2L678.0 595.8L692.3 586.1L706.6 581.1L721.0 575.1L735.3 575.7L749.6 574.1L764.0 571.9L778.3 571.3L792.6 567.9" stroke="#0a0af5" stroke-width="3" fill="none" stroke-linejoin="round"/><path d="M792.6 567.9L806.9 571.3L821.3 578.3L835.6 581.3" stroke="#ff7f0a" stroke-width="3" fill="none" stroke-linejoin="round"/><path d="M835.6 581.3L849.9 579.3L864.3 575.3L878.6 570.3L892.9 565.9L907.3 559.9L921.6 552.6L935.9 551.2L950.2 544.2L964.6 534.2L978.9 523.2L993.2 521.8L1007.6 518.2L1021.9 512.2L1036.2 510.8" stroke="#0a0af5" stroke-width="3" fill="none" stroke-linejoin="round"/><path d="M1036.2 510.8L1050.6 512.2" stroke="#ff7f0a" stroke-width="3" fill="none" stroke-linejoin="round"/><path d="M1050.6 512.2L1064.9 510.8" stroke="#0a0af5" stroke-width="3" fill="none" stroke-linejoin="round"/><path d="M1064.9 510.8L1079.2 513.2L1093.5 519.2L1107.9 521.2" stroke="#ff7f0a" stroke-width="3" fill="none" stroke-linejoin="round"/><path d="M1107.9 521.2L1122.2 521.0L1136.5 517.8L1150.9 515.2L1165.2 513.8L1179.5 510.8L1193.9 507.8" stroke="#0a0af5" stroke-width="3" fill="none" stroke-linejoin="round"/><path d="M1193.9 507.8L1208.2 509.8L1222.5 513.8L1236.8 521.8L1251.2 529.6L1265.5 535.2L1279.8 536.2L1294.2 538.2L1308.5 539.2" stroke="#ff7f0a" stroke-width="3" fill="none" stroke-linejoin="round"/><path d="M1308.5 539.2L1322.8 539.2L1337.2 539.2L1351.5 534.6L1365.8 532.2" stroke="#0a0af5" stroke-width="3" fill="none" stroke-linejoin="round"/><path d="M1365.8 532.2L1380.1 534.6L1394.5 538.8L1408.8 541.8" stroke="#ff7f0a" stroke-width="3" fill="none" stroke-linejoin="round"/><path d="M1408.8 541.8L1423.1 541.8L1437.5 540.2" stroke="#0a0af5" stroke-width="3" fill="none" stroke-linejoin="round"/><path d="M33.1 232.5L38.7 242.5H27.5Z" fill="#0a0af5"/><path d="M663.6 597.6L669.2 607.6H658.0Z" fill="#0a0af5"/><path d="M878.6 564.7L884.2 574.7H873.0Z" fill="#0a0af5"/><path d="M907.3 554.3L912.9 564.3H901.7Z" fill="#0a0af5"/><path d="M950.2 538.6L955.9 548.6H944.6Z" fill="#0a0af5"/><path d="M1021.9 506.6L1027.5 516.6H1016.3Z" fill="#0a0af5"/><rect x="57.3" y="242.0" width="9" height="8.4" fill="#dc0a32"/><rect x="100.3" y="257.4" width="9" height="8.4" fill="#dc0a32"/><rect x="386.9" y="446.8" width="9" height="8.4" fill="#dc0a32"/><rect x="816.8" y="574.1" width="9" height="8.4" fill="#dc0a32"/><rect x="1089.0" y="515.0" width="9" height="8.4" fill="#dc0a32"/><rect x="1232.3" y="517.6" width="9" height="8.4" fill="#dc0a32"/><circle cx="993.2" cy="450.3" r="4" fill="#000"/><circle cx="592.0" cy="693.3" r="4" fill="#000"/><path d="M1742.5 133.2V99L1767.3 83.2L1792 99V133.2Z" fill="#e1e1e1" stroke="#5a5a5a" stroke-width="1"/></svg>
<span class="t" style="left:1755.7px;top:109.3px;font-size:17.3px;letter-spacing:2.96px;color:#222;">85</span>
<div class="b" style="left:12.8px;top:73.1px;width:292.0px;height:29.3px;background:#006400;"></div>
<span class="t" style="left:19.9px;top:80.2px;font-size:17.5px;letter-spacing:0.45px;color:#fff;font-weight:bold;">DTR $47.00 vs ATR $298.35  16%</span>
<div class="b" style="left:307.2px;top:73.1px;width:192.3px;height:29.3px;background:#0000ff;"></div>
<span class="t" style="left:314.5px;top:80.2px;font-size:17.5px;letter-spacing:0.47px;color:#fff;font-weight:bold;">Ocean Slope: 1.77%</span>
<div class="b" style="left:1807.0px;top:37.0px;width:1.0px;height:1018.0px;background:#b0b0b0;"></div>
<div class="b" style="left:1808px;top:69px;width:80px;height:20px;overflow:hidden"><span class="t" style="left:2.6px;top:-6.5px;font-size:17.3px;letter-spacing:1.38px;color:#5d6167;">81.2</span></div>
<span class="t" style="left:1810.6px;top:124.2px;font-size:17.3px;letter-spacing:3.06px;color:#5d6167;">81</span>
<span class="t" style="left:1810.6px;top:185.1px;font-size:17.3px;letter-spacing:1.38px;color:#5d6167;">80.8</span>
<span class="t" style="left:1810.6px;top:246.0px;font-size:17.3px;letter-spacing:1.38px;color:#5d6167;">80.6</span>
<span class="t" style="left:1810.6px;top:306.9px;font-size:17.3px;letter-spacing:1.38px;color:#5d6167;">80.4</span>
<span class="t" style="left:1810.6px;top:367.8px;font-size:17.3px;letter-spacing:1.38px;color:#5d6167;">80.2</span>
<span class="t" style="left:1810.6px;top:428.7px;font-size:17.3px;letter-spacing:3.06px;color:#5d6167;">80</span>
<span class="t" style="left:1810.6px;top:489.6px;font-size:17.3px;letter-spacing:1.38px;color:#5d6167;">79.8</span>
<span class="t" style="left:1810.6px;top:550.5px;font-size:17.3px;letter-spacing:1.38px;color:#5d6167;">79.6</span>
<span class="t" style="left:1810.6px;top:611.4px;font-size:17.3px;letter-spacing:1.38px;color:#5d6167;">79.4</span>
<span class="t" style="left:1810.6px;top:672.3px;font-size:17.3px;letter-spacing:1.38px;color:#5d6167;">79.2</span>
<span class="t" style="left:1810.6px;top:733.2px;font-size:17.3px;letter-spacing:3.06px;color:#5d6167;">79</span>
<div class="b" style="left:1811.4px;top:349.6px;width:56.8px;height:23.0px;background:#dc0a32;border-radius:4.5px;"></div><span class="t" style="left:1814.7px;top:353.7px;font-size:17.3px;letter-spacing:1.38px;color:#fff;">80.24</span>
<div class="b" style="left:1811.4px;top:438.1px;width:56.8px;height:23.0px;background:#0b4423;border-radius:4.5px;"></div><span class="t" style="left:1814.7px;top:442.2px;font-size:17.3px;letter-spacing:1.38px;color:#fff;">79.95</span>
<div class="b" style="left:1811.4px;top:490.0px;width:56.8px;height:23.0px;background:#187a86;border-radius:4.5px;"></div><span class="t" style="left:1814.7px;top:494.1px;font-size:17.3px;letter-spacing:1.38px;color:#fff;">79.78</span>
<div class="b" style="left:1811.4px;top:522.4px;width:56.8px;height:23.0px;background:#000;border-radius:4.5px;"></div><span class="t" style="left:1814.7px;top:526.5px;font-size:17.3px;letter-spacing:1.38px;color:#fff;">79.67</span>
<div class="b" style="left:1811.4px;top:626.2px;width:56.8px;height:23.0px;background:#454545;border-radius:4.5px;"></div><span class="t" style="left:1814.7px;top:630.3px;font-size:17.3px;letter-spacing:1.38px;color:#fff;">79.33</span>
<div class="b" style="left:1811.4px;top:681.0px;width:56.8px;height:23.0px;background:#b0282e;border-radius:4.5px;"></div><span class="t" style="left:1814.7px;top:685.1px;font-size:17.3px;letter-spacing:1.38px;color:#fff;">79.15</span>
<div class="b" style="left:8.0px;top:748.0px;width:1799.0px;height:1.0px;background:#b4b4b4;"></div>
<div class="b" style="left:8.0px;top:753.5px;width:1799.5px;height:31.5px;background:#f6f6f6;border:1px solid #bcbcbc;box-sizing:border-box;"></div>
<div class="b" style="left:203.8px;top:754.5px;width:1.0px;height:29.5px;background:#bcbcbc;"></div>
<div class="b" style="left:290.5px;top:754.5px;width:1.0px;height:29.5px;background:#bcbcbc;"></div>
<div class="b" style="left:314.2px;top:754.5px;width:1.0px;height:29.5px;background:#bcbcbc;"></div>
<div class="b" style="left:401.8px;top:754.5px;width:1.0px;height:29.5px;background:#bcbcbc;"></div>
<div class="b" style="left:460.2px;top:754.5px;width:1.0px;height:29.5px;background:#bcbcbc;"></div>
<div class="b" style="left:524.5px;top:754.5px;width:1.0px;height:29.5px;background:#bcbcbc;"></div>
<span class="t" style="left:12.4px;top:761.9px;font-size:17.5px;letter-spacing:0.34px;color:#111;">OCEAN_NMM (40, no)</span>
<span class="t" style="left:208.3px;top:761.9px;font-size:17.5px;letter-spacing:0.84px;color:#222;">-49.7646</span>
<span class="t" style="left:295.0px;top:761.9px;font-size:17.5px;letter-spacing:2.17px;color:#1a1ae6;">0</span>
<span class="t" style="left:318.9px;top:761.9px;font-size:17.5px;letter-spacing:0.86px;color:#8e8e8e;">-139.286</span>
<span class="t" style="left:406.3px;top:761.9px;font-size:17.5px;letter-spacing:0.85px;color:#1a1ae6;">1,000</span>
<span class="t" style="left:464.9px;top:761.9px;font-size:17.5px;letter-spacing:0.71px;color:#1a1ae6;">-1,000</span>
<svg class="b" style="left:8px;top:785px" width="1799" height="269" viewBox="8 785 1799 269"><rect x="8" y="785" width="1799" height="269" fill="#f2efe8"/><path d="M11.4 790V1048" stroke="#4a4a4a" stroke-width="1.1" stroke-dasharray="1.2 7.2"/><path d="M11.4 785V790.5M11.4 1047V1054" stroke="#333" stroke-width="1"/><path d="M125.4 790V1048" stroke="#4a4a4a" stroke-width="1.1" stroke-dasharray="1.2 7.2"/><path d="M125.4 785V790.5M125.4 1047V1054" stroke="#333" stroke-width="1"/><path d="M240.6 790V1048" stroke="#4a4a4a" stroke-width="1.1" stroke-dasharray="1.2 7.2"/><path d="M240.6 785V790.5M240.6 1047V1054" stroke="#333" stroke-width="1"/><path d="M311.4 790V1048" stroke="#4a4a4a" stroke-width="1.1" stroke-dasharray="1.2 7.2"/><path d="M311.4 785V790.5M311.4 1047V1054" stroke="#333" stroke-width="1"/><path d="M441.2 790V1048" stroke="#4a4a4a" stroke-width="1.1" stroke-dasharray="1.2 7.2"/><path d="M441.2 785V790.5M441.2 1047V1054" stroke="#333" stroke-width="1"/><path d="M513 790V1048" stroke="#4a4a4a" stroke-width="1.1" stroke-dasharray="1.2 7.2"/><path d="M513 785V790.5M513 1047V1054" stroke="#333" stroke-width="1"/><path d="M584.4 790V1048" stroke="#4a4a4a" stroke-width="1.1" stroke-dasharray="1.2 7.2"/><path d="M584.4 785V790.5M584.4 1047V1054" stroke="#333" stroke-width="1"/><path d="M699.5 790V1048" stroke="#4a4a4a" stroke-width="1.1" stroke-dasharray="1.2 7.2"/><path d="M699.5 785V790.5M699.5 1047V1054" stroke="#333" stroke-width="1"/><path d="M814.5 790V1048" stroke="#4a4a4a" stroke-width="1.1" stroke-dasharray="1.2 7.2"/><path d="M814.5 785V790.5M814.5 1047V1054" stroke="#333" stroke-width="1"/><path d="M915.6 790V1048" stroke="#4a4a4a" stroke-width="1.1" stroke-dasharray="1.2 7.2"/><path d="M915.6 785V790.5M915.6 1047V1054" stroke="#333" stroke-width="1"/><path d="M986.5 790V1048" stroke="#4a4a4a" stroke-width="1.1" stroke-dasharray="1.2 7.2"/><path d="M986.5 785V790.5M986.5 1047V1054" stroke="#333" stroke-width="1"/><path d="M1072.4 790V1048" stroke="#4a4a4a" stroke-width="1.1" stroke-dasharray="1.2 7.2"/><path d="M1072.4 785V790.5M1072.4 1047V1054" stroke="#333" stroke-width="1"/><path d="M1143.5 790V1048" stroke="#4a4a4a" stroke-width="1.1" stroke-dasharray="1.2 7.2"/><path d="M1143.5 785V790.5M1143.5 1047V1054" stroke="#333" stroke-width="1"/><path d="M1316.4 790V1048" stroke="#4a4a4a" stroke-width="1.1" stroke-dasharray="1.2 7.2"/><path d="M1316.4 785V790.5M1316.4 1047V1054" stroke="#333" stroke-width="1"/><path d="M1401.6 790V1048" stroke="#4a4a4a" stroke-width="1.1" stroke-dasharray="1.2 7.2"/><path d="M1401.6 785V790.5M1401.6 1047V1054" stroke="#333" stroke-width="1"/><path d="M1473.4 790V1048" stroke="#4a4a4a" stroke-width="1.1" stroke-dasharray="1.2 7.2"/><path d="M1473.4 785V790.5M1473.4 1047V1054" stroke="#333" stroke-width="1"/><path d="M11.4 816.8H1800" stroke="#5a5a5a" stroke-width="1.1" stroke-dasharray="1.2 7.2"/><path d="M8 816.8H13M1800.5 816.8H1807" stroke="#555" stroke-width="1"/><path d="M11.4 961H1800" stroke="#5a5a5a" stroke-width="1.1" stroke-dasharray="1.2 7.2"/><path d="M8 961H13M1800.5 961H1807" stroke="#555" stroke-width="1"/><path d="M11.4 1032.8H1800" stroke="#5a5a5a" stroke-width="1.1" stroke-dasharray="1.2 7.2"/><path d="M8 1032.8H13M1800.5 1032.8H1807" stroke="#555" stroke-width="1"/><path d="M1800.5 890H1807" stroke="#555" stroke-width="1"/><path d="M4.4 816.8H1796" stroke="#1a1af5" stroke-width="1.7" stroke-dasharray="7.4 10.8"/><path d="M4.4 961H1796" stroke="#1a1af5" stroke-width="1.7" stroke-dasharray="7.4 10.8"/><path d="M8 890H1796.6" stroke="#2a2af0" stroke-width="1.3"/><path d="M8.4 938.0L18.8 926.9L33.1 913.4L47.5 915.5L61.8 921.5L76.1 926.0L90.5 926.6L104.8 934.4L119.1 935.8L133.4 940.0L147.8 945.4L162.1 945.4L176.4 949.9L190.8 957.4L205.1 965.5L219.4 968.8L233.8 964.3L248.1 967.9L262.4 976.8L276.7 985.2L291.1 994.2L305.4 1005.8L319.7 1012.7L334.1 1017.2L348.4 1011.2L362.7 1000.8L377.1 990.3L391.4 991.8L405.7 1000.8L420.0 1010.6L434.4 1016.3L448.7 1021.7L463.0 1020.2L477.4 1026.2L491.7 1031.3L506.0 1029.8L520.4 1026.2L534.7 1024.1L549.0 1017.2L563.3 1020.2L577.7 1024.7L592.0 1015.1L606.3 1007.6L620.7 997.8L635.0 979.8L649.3 964.9L663.6 948.4L678.0 931.4L692.3 916.4L706.6 907.4L721.0 899.7L735.3 900.5L749.6 900.5L764.0 897.6L778.3 895.5L792.6 891.6L806.9 898.5L821.3 908.0L835.6 909.5L849.9 902.0L864.3 891.6L878.6 880.2L892.9 874.2L907.3 866.1L921.6 858.7L935.9 861.7L950.2 850.3L964.6 841.6L978.9 833.8L993.2 837.7L1007.6 837.7L1021.9 836.2L1036.2 839.2L1050.6 847.6L1064.9 851.8L1079.2 858.7L1093.5 869.5L1107.9 873.0L1122.2 871.5L1136.5 867.6L1150.9 866.1L1165.2 865.6L1179.5 862.6L1193.9 863.2L1208.2 869.1L1222.5 879.6L1236.8 890.7L1251.2 902.6L1265.5 909.5L1279.8 906.5L1294.2 902.6L1308.5 902.9L1322.8 900.5L1337.2 898.2L1351.5 890.1L1365.8 885.6L1380.1 892.5L1394.5 899.7L1408.8 905.6L1423.1 902.6L1437.5 899.7" stroke="#7c7c7c" stroke-width="1.35" fill="none"/><path d="M8.4 923.0L18.8 893.1L33.1 875.1L47.5 918.5L61.8 938.8L76.1 938.8L90.5 926.9L104.8 954.4L119.1 940.0L133.4 951.4L147.8 957.4L162.1 945.4L176.4 961.0L190.8 976.2L205.1 982.8L219.4 976.2L233.8 952.3L248.1 979.2L262.4 1001.7L276.7 1009.7L291.1 1011.2L305.4 1037.3L319.7 1026.8L334.1 1030.1L348.4 996.3L362.7 973.8L377.1 965.5L391.4 994.8L405.7 1019.3L420.0 1034.3L434.4 1029.8L448.7 1035.8L463.0 1018.7L477.4 1042.6L491.7 1045.6L506.0 1025.6L520.4 1013.3L534.7 1021.7L549.0 1000.2L563.3 1026.8L577.7 1033.1L592.0 990.3L606.3 989.4L620.7 972.3L635.0 934.1L649.3 929.0L663.6 900.5L678.0 889.5L692.3 882.6L706.6 884.1L721.0 879.6L735.3 903.5L749.6 897.6L764.0 890.7L778.3 891.0L792.6 876.6L806.9 918.5L821.3 929.6L835.6 911.9L849.9 884.1L864.3 864.7L878.6 852.7L892.9 863.2L907.3 843.1L921.6 843.1L935.9 872.1L950.2 819.2L964.6 819.8L978.9 815.3L993.2 847.6L1007.6 838.3L1021.9 830.9L1036.2 848.2L1050.6 868.2L1064.9 861.7L1079.2 879.0L1093.5 895.5L1107.9 882.6L1122.2 865.5L1136.5 858.7L1150.9 861.7L1165.2 864.7L1179.5 857.2L1193.9 864.7L1208.2 885.6L1222.5 905.9L1236.8 920.6L1251.2 930.5L1265.5 927.5L1279.8 896.7L1294.2 895.2L1308.5 905.0L1322.8 892.2L1337.2 890.7L1351.5 868.2L1365.8 872.7L1380.1 914.0L1394.5 914.9L1408.8 919.1L1423.1 893.7L1437.5 892.2" stroke="#000" stroke-width="2.9" fill="none" stroke-linejoin="miter"/></svg>
<div class="b" style="left:12.9px;top:789.9px;width:116.3px;height:29.0px;background:#000;"></div>
<span class="t" style="left:25.2px;top:796.9px;font-size:17.5px;letter-spacing:1.06px;color:#fff;font-weight:bold;">Mirror: -50</span>
<div class="b" style="left:131.9px;top:789.9px;width:82.9px;height:29.0px;background:#0000ff;"></div>
<span class="t" style="left:144.0px;top:796.9px;font-size:17.5px;letter-spacing:0.65px;color:#fff;font-weight:bold;">o1: 126</span>
<div class="b" style="left:217.8px;top:789.9px;width:82.2px;height:29.0px;background:#0000ff;"></div>
<span class="t" style="left:229.8px;top:796.9px;font-size:17.5px;letter-spacing:0.61px;color:#fff;font-weight:bold;">o2: 888</span>
<div class="b" style="left:303.0px;top:789.9px;width:82.9px;height:29.0px;background:#0000ff;"></div>
<span class="t" style="left:315.4px;top:796.9px;font-size:17.5px;letter-spacing:0.65px;color:#fff;font-weight:bold;">o3: 580</span>
<div class="b" style="left:388.9px;top:789.9px;width:88.2px;height:29.0px;background:#ff8000;"></div>
<span class="t" style="left:401.2px;top:796.9px;font-size:17.5px;letter-spacing:0.49px;color:#fff;font-weight:bold;">o5: -449</span>
<div class="b" style="left:480.1px;top:789.9px;width:72.7px;height:29.0px;background:#0000ff;"></div>
<span class="t" style="left:491.9px;top:796.9px;font-size:17.5px;letter-spacing:0.62px;color:#fff;font-weight:bold;">o8: 44</span>
<div class="b" style="left:555.9px;top:789.9px;width:92.4px;height:29.0px;background:#0000ff;"></div>
<span class="t" style="left:567.9px;top:796.9px;font-size:17.5px;letter-spacing:0.62px;color:#fff;font-weight:bold;">o13: 488</span>
<div class="b" style="left:651.3px;top:789.9px;width:97.5px;height:29.0px;background:#ff8000;"></div>
<span class="t" style="left:663.0px;top:796.9px;font-size:17.5px;letter-spacing:0.41px;color:#fff;font-weight:bold;">o21: -301</span>
<div class="b" style="left:751.8px;top:789.9px;width:98.4px;height:29.0px;background:#ff8000;"></div>
<span class="t" style="left:763.9px;top:796.9px;font-size:17.5px;letter-spacing:0.63px;color:#fff;font-weight:bold;">o34: -344</span>
<div class="b" style="left:853.2px;top:789.9px;width:92.7px;height:29.0px;background:#0000ff;"></div>
<span class="t" style="left:865.0px;top:796.9px;font-size:17.5px;letter-spacing:0.65px;color:#fff;font-weight:bold;">o55: 305</span>
<div class="b" style="left:1811.4px;top:804.4px;width:55.6px;height:23.2px;background:#0a0af0;border-radius:4.5px;"></div><span class="t" style="left:1814.9px;top:808.6px;font-size:17.3px;letter-spacing:1.25px;color:#fff;">1,000</span>
<div class="b" style="left:1811.4px;top:880.1px;width:72.6px;height:23.2px;background:#000;border-radius:4.5px;"></div><span class="t" style="left:1814.9px;top:884.3px;font-size:17.3px;letter-spacing:1.02px;color:#fff;">-49.765</span>
<div class="b" style="left:1811.4px;top:948.7px;width:61.1px;height:23.2px;background:#0a0af0;border-radius:4.5px;"></div><span class="t" style="left:1814.9px;top:952.9px;font-size:17.3px;letter-spacing:0.95px;color:#fff;">-1,000</span>
<span class="t" style="left:1810.9px;top:1027.1px;font-size:17.3px;letter-spacing:0.65px;color:#5d6167;">-2,000</span>
<div class="b" style="left:8.0px;top:1054.0px;width:1799.0px;height:1.0px;background:#b4b4b4;"></div>
<div class="b" style="left:8.0px;top:1059.0px;width:1799.0px;height:4.0px;background:#f8f8f8;border-top:1px solid #bcbcbc;"></div>
<div class="b" style="left:194.2px;top:1059.0px;width:1.0px;height:4.0px;background:#bcbcbc;"></div>
<div class="b" style="left:254.2px;top:1059.0px;width:1.0px;height:4.0px;background:#bcbcbc;"></div>
<div class="b" style="left:298.5px;top:1059.0px;width:1.0px;height:4.0px;background:#bcbcbc;"></div>
</body></html>
